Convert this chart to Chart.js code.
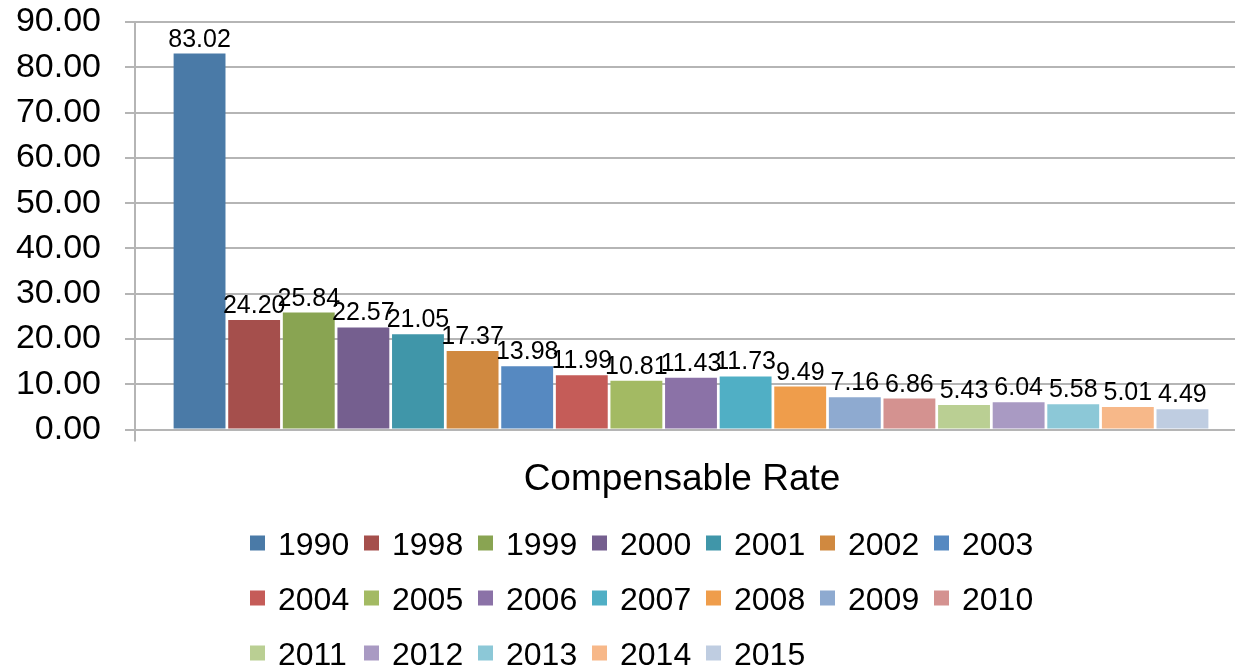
<!DOCTYPE html>
<html><head><meta charset="utf-8">
<script src="https://cdn.jsdelivr.net/npm/chart.js@4.4.1/dist/chart.umd.min.js"></script>
<style>html,body{margin:0;padding:0;background:#fff;overflow:hidden;}#wrap{width:1235px;height:671px;overflow:hidden;}</style>
</head><body><div id="wrap"><canvas id="c" width="1247" height="671"></canvas></div>
<script>
const categories = ['Compensable Rate'];
const years = ['1990','1998','1999','2000','2001','2002','2003','2004','2005','2006','2007','2008','2009','2010','2011','2012','2013','2014','2015'];
const rates = [83.02,24.20,25.84,22.57,21.05,17.37,13.98,11.99,10.81,11.43,11.73,9.49,7.16,6.86,5.43,6.04,5.58,5.01,4.49];
const colors = ['#4A7AA7','#A54F4C','#89A452','#755F8F','#4096A9','#D08940','#5689C1','#C55C58','#A3BA63','#8B72A7','#50AFC5','#EF9D4B','#8EAAD0','#D49290','#BACF93','#A99AC3','#8CC8D7','#F7B889','#BFCDE1'];
const yMin = 0, yMax = 90, yStep = 10;

const FONT = '"Liberation Sans", Arial, Helvetica, sans-serif';

const datasets = years.map((y, i) => ({
  label: y,
  data: [rates[i]],
  backgroundColor: colors[i],
  borderWidth: 0,
  barPercentage: 0.95,
  categoryPercentage: 0.933
}));

const valueLabels = {
  id: 'valueLabels',
  afterDatasetsDraw(chart) {
    const ctx = chart.ctx;
    ctx.save();
    ctx.font = '25px ' + FONT;
    ctx.fillStyle = '#000';
    ctx.textAlign = 'center';
    ctx.textBaseline = 'alphabetic';
    chart.data.datasets.forEach((ds, i) => {
      const el = chart.getDatasetMeta(i).data[0];
      ctx.fillText(ds.data[0].toFixed(2), el.x, el.y - 7);
    });
    ctx.restore();
  }
};

const gridLegend = {
  id: 'gridLegend',
  afterDraw(chart, args, opts) {
    const ctx = chart.ctx;
    ctx.save();
    ctx.font = opts.fontSize + 'px ' + FONT;
    ctx.textAlign = 'left';
    ctx.textBaseline = 'middle';
    chart.data.datasets.forEach((ds, i) => {
      const col = i % opts.columns, row = Math.floor(i / opts.columns);
      const x = opts.left + col * opts.colWidth;
      const y = opts.top + row * opts.rowHeight;
      ctx.fillStyle = ds.backgroundColor;
      ctx.fillRect(x, y - opts.box / 2 - 3, opts.box, opts.box);
      ctx.fillStyle = '#000';
      ctx.fillText(ds.label, x + opts.box + 13, y);
    });
    ctx.restore();
  }
};

new Chart(document.getElementById('c'), {
  type: 'bar',
  data: { labels: categories, datasets },
  plugins: [valueLabels, gridLegend],
  options: {
    responsive: false,
    animation: false,
    devicePixelRatio: 1,
    layout: { padding: { top: 22, right: 0, bottom: 153, left: 0 } },
    plugins: {
      legend: { display: false },
      tooltip: { enabled: false },
      gridLegend: { left: 250, top: 546, colWidth: 114, rowHeight: 55, columns: 7, box: 15, fontSize: 32 }
    },
    scales: {
      x: {
        offset: true,
        grid: { display: true, drawOnChartArea: false, drawTicks: true, tickLength: 12, color: '#b5b5b5', lineWidth: 2, offset: true },
        border: { display: false },
        ticks: { color: '#000', font: { family: FONT, size: 37 }, padding: 16, labelOffset: -9 }
      },
      y: {
        min: yMin, max: yMax,
        afterFit(scale) { scale.width = 135; scale.paddingTop = 0; scale.paddingBottom = 0; },
        grid: { color: '#b5b5b5', lineWidth: 2, tickLength: 10 },
        border: { display: true, color: '#b5b5b5', width: 2 },
        ticks: { stepSize: yStep, autoSkip: false, color: '#000', font: { family: FONT, size: 34 }, padding: 24,
                 callback: v => Number(v).toFixed(2) }
      }
    }
  }
});
</script></body></html>
